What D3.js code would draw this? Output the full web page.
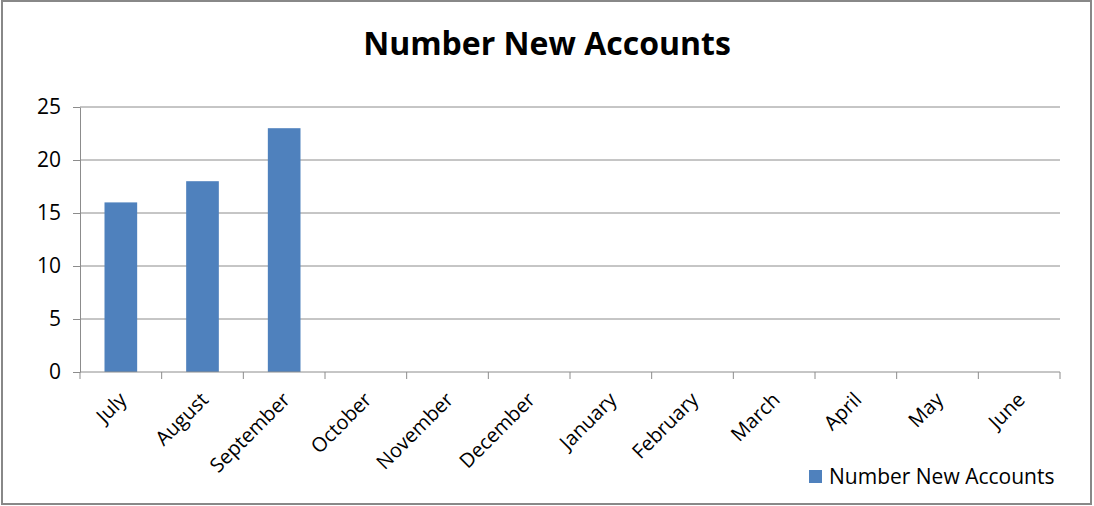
<!DOCTYPE html>
<html lang="en">
<head>
    <meta charset="UTF-8">
    <title>Number New Accounts</title>
    <script src="https://cdn.jsdelivr.net/npm/d3@7/dist/d3.min.js"></script>
    <style>
        body { margin: 0; background: #fff; }
        text { font-family: "Open Sans", "Noto Sans", sans-serif; fill: #000; }
        .axis path, .axis line, .grid line { stroke: #8c8c8c; stroke-width: 1; }
    </style>
</head>
<body>
<script>
    const width = 1094;
    const height = 506;

    const months = ["July", "August", "September", "October", "November", "December",
        "January", "February", "March", "April", "May", "June"];
    const accounts = [16, 18, 23, null, null, null, null, null, null, null, null, null];
    const yTicks = [0, 5, 10, 15, 20, 25];
    const seriesName = "Number New Accounts";

    const margin = {left: 80, right: 34, top: 107, bottom: 134};

    const svg = d3.select("body").append("svg")
        .attr("width", width).attr("height", height);

    // outer frame
    svg.append("rect")
        .attr("x", 2).attr("y", 1)
        .attr("width", 1089).attr("height", 503)
        .attr("fill", "#fff").attr("stroke", "#888").attr("stroke-width", 2);

    const x = d3.scaleBand()
        .domain(months)
        .range([margin.left, width - margin.right])
        .paddingInner(0.6).paddingOuter(0.3);

    const y = d3.scaleLinear()
        .domain([0, 25])
        .range([height - margin.bottom, margin.top]);

    // gridlines
    svg.append("g").attr("class", "grid")
        .selectAll("line")
        .data(yTicks.filter(d => d > 0))
        .enter().append("line")
        .attr("x1", margin.left).attr("x2", width - margin.right)
        .attr("y1", d => y(d)).attr("y2", d => y(d));

    // bars
    svg.append("g")
        .selectAll("rect")
        .data(months.map((m, i) => ({m: m, v: accounts[i]})).filter(d => d.v != null))
        .enter().append("rect")
        .attr("x", d => x(d.m))
        .attr("width", x.bandwidth())
        .attr("y", d => y(d.v))
        .attr("height", d => y(0) - y(d.v))
        .attr("fill", "#4f81bd");

    // y axis
    const yAxis = svg.append("g").attr("class", "axis")
        .attr("transform", `translate(${margin.left},0)`)
        .call(d3.axisLeft(y).tickValues(yTicks).tickSize(7).tickSizeOuter(0).tickPadding(12));
    yAxis.selectAll("text").style("font-size", "21px");

    // x axis with ticks at band boundaries
    const bounds = d3.range(months.length + 1).map(i =>
        margin.left + i * (width - margin.right - margin.left) / months.length);
    const xAxis = svg.append("g").attr("class", "axis");
    xAxis.append("line")
        .attr("x1", margin.left).attr("x2", width - margin.right)
        .attr("y1", y(0)).attr("y2", y(0));
    xAxis.selectAll("line.tick")
        .data(bounds)
        .enter().append("line").attr("class", "tick")
        .attr("x1", d => d).attr("x2", d => d)
        .attr("y1", y(0)).attr("y2", y(0) + 7);
    xAxis.selectAll("text")
        .data(months)
        .enter().append("text")
        .attr("text-anchor", "end")
        .attr("transform", d => `translate(${x(d) + x.bandwidth() / 2 + 7},${y(0) + 29}) rotate(-45)`)
        .style("font-size", "20px")
        .text(d => d);

    // title
    svg.append("text")
        .attr("x", 547).attr("y", 55)
        .attr("text-anchor", "middle")
        .style("font-size", "32px").style("font-weight", "bold")
        .text(seriesName);

    // legend
    const legend = svg.append("g").attr("transform", "translate(809,470)");
    legend.append("rect").attr("width", 13).attr("height", 13).attr("fill", "#4f81bd");
    legend.append("text").attr("x", 20).attr("y", 14)
        .style("font-size", "21px")
        .text(seriesName);
</script>
</body>
</html>
